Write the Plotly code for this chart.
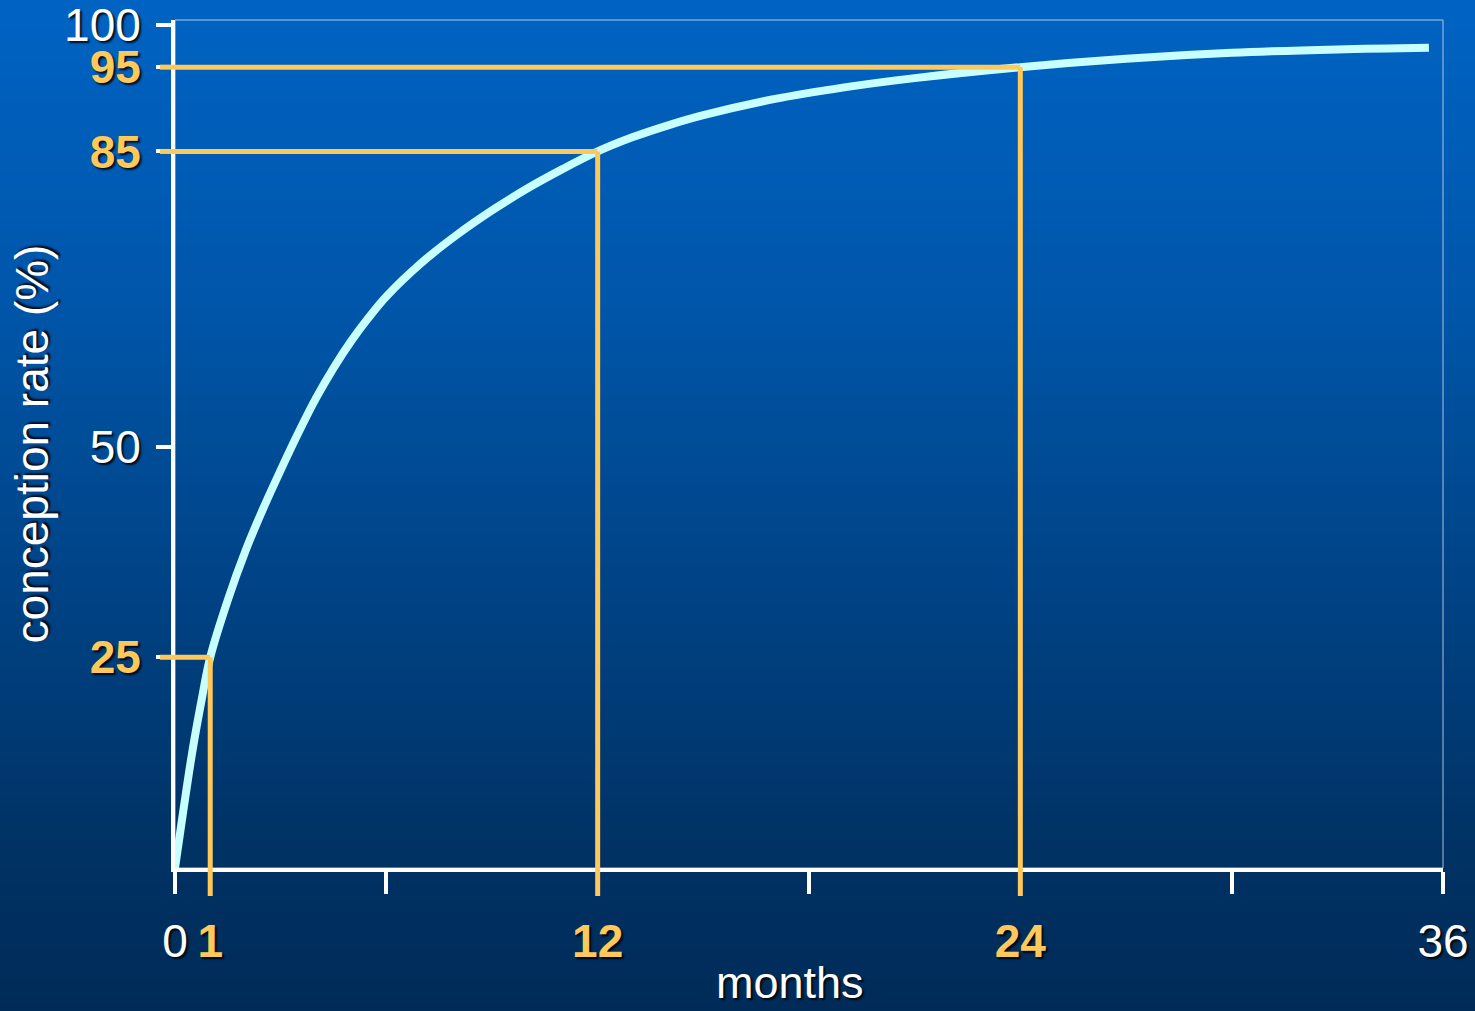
import plotly.graph_objects as go

# Cumulative conception rate over time
months = [0, 0.25, 0.5, 0.75, 1, 1.5, 2, 2.5, 3, 3.5, 4, 4.5, 5, 5.5, 6, 7, 8, 9, 10, 11,
          12, 13, 14, 15, 17, 19, 21, 24, 27, 30, 33, 35.6]
rate = [0, 7.2, 14, 19.8, 25, 31.8, 37.6, 42.6, 47.2, 51.6, 55.7, 59.3, 62.5, 65.3, 67.8,
        71.8, 75.1, 78, 80.6, 82.9, 85, 86.7, 88.1, 89.3, 91.2, 92.6, 93.7, 95, 96, 96.7,
        97.1, 97.3]

# Highlighted milestones (month, rate)
mark_months = [1, 12, 24]
mark_rates = [25, 85, 95]

x_tickvals = [0, 1, 6, 12, 18, 24, 30, 36]
x_ticklabels = ["0", "1", "", "12", "", "24", "", "36"]
y_tickvals = [25, 50, 85, 95, 100]
y_ticklabels = ["25", "50", "85", "95", "100"]

WHITE = "#FFFFFF"
GOLD = "#FFC85A"
CURVE = "#C8FFFF"
FONT = "Liberation Sans, Arial, sans-serif"
SHADOW = "2px 2px 2px rgba(0,0,0,0.85)"

W, H = 1475, 1011
ML, MR, MT, MB = 175, 32, 20, 143
PW, PH = W - ML - MR, H - MT - MB
Y_TOP = 100 * PH / (PH - 5)


def gold(label):
    return f'<span style="color:{GOLD}"><b>{label}</b></span>'


x_text = [gold(t) if v in mark_months else t for v, t in zip(x_tickvals, x_ticklabels)]
y_text = [gold(t) if v in mark_rates else t for v, t in zip(y_tickvals, y_ticklabels)]

fig = go.Figure()
fig.add_trace(go.Scatter(
    x=months, y=rate, mode="lines",
    line=dict(color=CURVE, width=8, shape="spline", smoothing=1),
    hoverinfo="skip", showlegend=False,
))

shapes = []

# vertical background gradient, light blue at the top to navy at the bottom
stops = [(0, (0, 99, 195)), (300, (0, 86, 170)), (600, (0, 66, 132)),
         (850, (0, 50, 100)), (1011, (0, 43, 88))]


def grad_color(py):
    for (a, ca), (b, cb) in zip(stops[:-1], stops[1:]):
        if a <= py <= b:
            t = (py - a) / (b - a)
            return "rgb(%d,%d,%d)" % tuple(round(ca[i] + (cb[i] - ca[i]) * t) for i in range(3))
    return "rgb(%d,%d,%d)" % stops[-1][1]


band = 6
for top in range(0, H, band):
    bot = min(top + band, H)
    y1 = (H - MB - top) / PH
    y0 = (H - MB - bot) / PH
    shapes.append(dict(
        type="rect", xref="paper", yref="paper",
        x0=-ML / PW, x1=1 + MR / PW, y0=y0 - 0.001, y1=y1,
        fillcolor=grad_color((top + bot) / 2), line=dict(width=0), layer="below",
    ))

# thin frame around the plotting area
shapes.append(dict(type="rect", xref="paper", yref="paper", x0=0, x1=1, y0=0, y1=1,
                   line=dict(color="rgba(205,215,235,0.85)", width=1), layer="below"))

# guide lines from each milestone to both axes
for m, r in zip(mark_months, mark_rates):
    shapes.append(dict(type="line", xref="x", yref="y", x0=0, x1=m, y0=r, y1=r,
                       line=dict(color=GOLD, width=5), layer="above"))
    shapes.append(dict(type="line", xref="x", yref="y", x0=m, x1=m, y0=0, y1=r,
                       line=dict(color=GOLD, width=5), layer="above"))
    # short stubs running past the axes
    shapes.append(dict(type="line", xref="paper", xsizemode="pixel", xanchor=0,
                       x0=-15, x1=0, yref="y", y0=r, y1=r,
                       line=dict(color=GOLD, width=5), layer="above"))
    shapes.append(dict(type="line", xref="x", x0=m, x1=m, yref="paper",
                       ysizemode="pixel", yanchor=0, y0=-28, y1=0,
                       line=dict(color=GOLD, width=5), layer="above"))

fig.update_layout(
    width=W, height=H,
    margin=dict(l=ML, r=MR, t=MT, b=MB, pad=0),
    paper_bgcolor="rgb(0,70,140)",
    plot_bgcolor="rgba(0,0,0,0)",
    font=dict(family=FONT, color=WHITE, size=46, shadow=SHADOW),
    shapes=shapes,
    showlegend=False,
    xaxis=dict(
        range=[0, 36], tickmode="array", tickvals=x_tickvals, ticktext=x_text,
        tickangle=0, ticks="outside", ticklen=22, tickwidth=4, tickcolor=WHITE,
        showline=True, linewidth=4, linecolor=WHITE, showgrid=False, zeroline=False,
        automargin=False, ticklabeloverflow="allow",
        tickfont=dict(size=46, color=WHITE, shadow=SHADOW), ticklabelstandoff=8,
    ),
    yaxis=dict(
        range=[0, Y_TOP], tickmode="array", tickvals=y_tickvals, ticktext=y_text,
        ticks="outside", ticklen=15, tickwidth=4, tickcolor=WHITE,
        showline=True, linewidth=4, linecolor=WHITE, showgrid=False, zeroline=False,
        automargin=False, ticklabeloverflow="allow",
        tickfont=dict(size=46, color=WHITE, shadow=SHADOW), ticklabelstandoff=6,
        title=dict(text="conception rate (%)", font=dict(size=46, color=WHITE, shadow=SHADOW), standoff=2),
    ),
    annotations=[dict(
        text="months", xref="paper", yref="paper", x=0.485, y=-0.1355,
        xanchor="center", yanchor="middle", showarrow=False,
        font=dict(size=45, color=WHITE, shadow=SHADOW),
    )],
)

fig.write_html("out.html")
